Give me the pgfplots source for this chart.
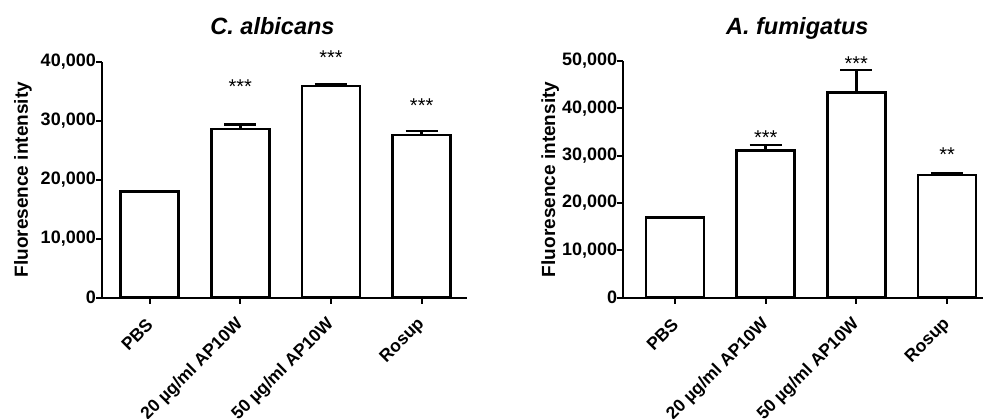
\documentclass[border=0pt]{standalone}
\usepackage{pgfplots}
\pgfplotsset{compat=1.18}
\usepackage{fontspec}
\setmainfont{Liberation Sans}
\tikzset{sig/.style={font=\fontsize{20}{20}\selectfont}}
\begin{document}
\begin{tikzpicture}
\useasboundingbox (0,0) rectangle (984pt,-418pt);
\pgfplotsset{
  common/.style={
    scale only axis,
    anchor=south west,
    axis x line=bottom, axis y line=left,
    axis line style={-, line width=2pt},
    ybar, bar width=58pt,
    ymin=0,
    xtick={0,1,2,3},
    xticklabels={PBS,20 µg/ml AP10W,50 µg/ml AP10W,Rosup},
    x tick label style={rotate=45, anchor=east, xshift=-9pt, yshift=-12.7pt, font=\bfseries\fontsize{17.5}{17.5}\selectfont},
    y tick label style={font=\bfseries\fontsize{18}{18}\selectfont, inner sep=0pt},
    /pgf/number format/assume math mode=true,
    /pgf/number format/.cd, 1000 sep={,}, /pgfplots/.cd,
    scaled y ticks=false,
    tick align=outside, major tick length=6pt,
    tick style={line width=2pt, black},
    ylabel={Fluoresence intensity},
    ylabel style={font=\bfseries\fontsize{19}{19}\selectfont, at={(axis description cs:0,0.5)}, anchor=center},
    title style={font=\bfseries\itshape\fontsize{23.5}{23.5}\selectfont, at={(0.5,1)}, anchor=base, yshift=21pt},
    clip=false,
  },
  barst/.style={draw=black, fill=white, line width=2.7pt,
    error bars/.cd, y dir=plus, y explicit,
    error bar style={line width=2.7pt, black},
    error mark options={rotate=90, line width=2.7pt, mark size=16pt, black}},
}
\begin{axis}[common,
  at={(102pt,-297.7pt)}, width=365pt, height=236pt,
  xmin=-0.525, xmax=3.5, ymax=40000,
  ytick={0,10000,20000,30000,40000},
  title={C. albicans}, title style={xshift=-12pt},
  ylabel style={yshift=79pt}]
\addplot[barst] coordinates {(0,18000) +- (0,100) (1,28600) +- (0,800) (2,35900) +- (0,200) (3,27600) +- (0,650)};
\node[sig] at (axis cs:1,35700) {***};
\node[sig] at (axis cs:2,40700) {***};
\node[sig] at (axis cs:3,32600) {***};
\end{axis}
\begin{axis}[common,
  at={(623.3pt,-297.7pt)}, width=360pt, height=236.7pt,
  xmin=-0.57, xmax=3.40, ymax=50000,
  ytick={0,10000,20000,30000,40000,50000},
  title={A. fumigatus}, title style={xshift=-6pt},
  ylabel style={yshift=73pt}]
\addplot[barst] coordinates {(0,16900) +- (0,150) (1,31100) +- (0,1150) (2,43400) +- (0,4700) (3,25900) +- (0,300)};
\node[sig] at (axis cs:1,33870) {***};
\node[sig] at (axis cs:2,49500) {***};
\node[sig] at (axis cs:3,30280) {**};
\end{axis}
\end{tikzpicture}
\end{document}
